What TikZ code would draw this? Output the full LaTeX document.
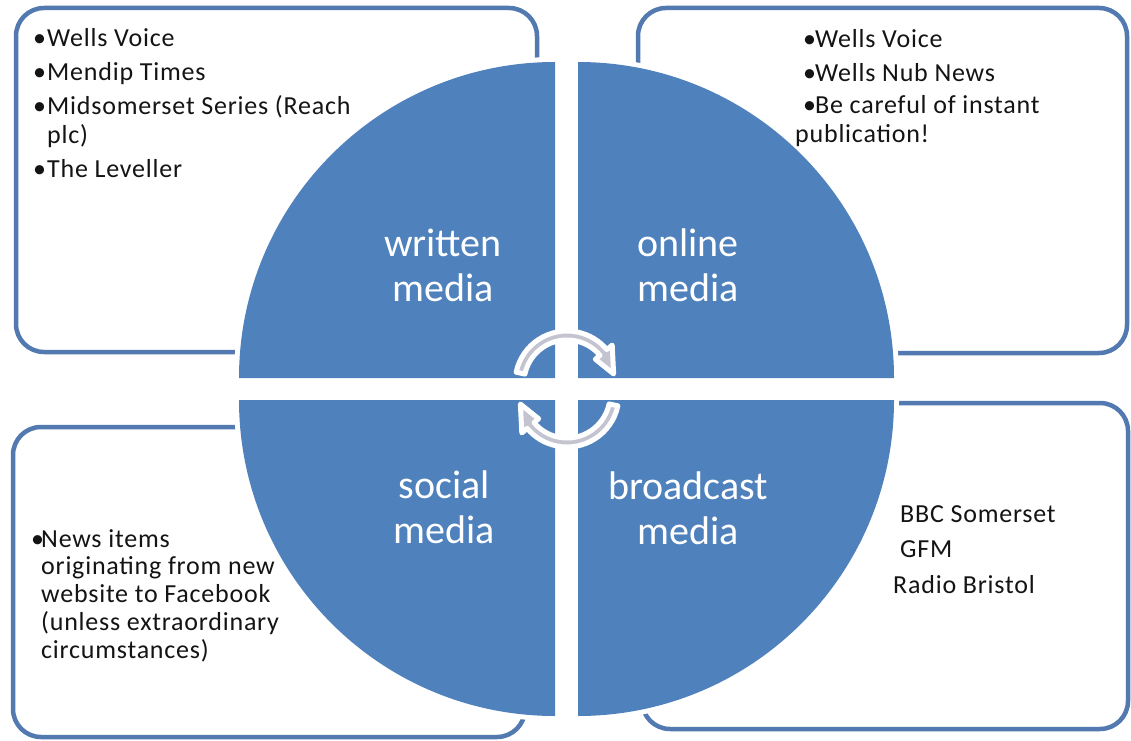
\documentclass[tikz,border=0pt]{standalone}
\usepackage{fontspec}
\setmainfont{Carlito}
\newfontfamily\boxfont{Carlito}[LetterSpace=3.0]
\usetikzlibrary{calc}
\definecolor{quadblue}{HTML}{4F81BD}
\definecolor{frameblue}{HTML}{5279B0}
\definecolor{arrowgrey}{HTML}{C4C4D0}
\definecolor{ink}{HTML}{141414}
\newcommand\itemdot[1]{\makebox[#1][l]{•}}

\begin{document}
\begin{tikzpicture}[x=1pt,y=1pt,
  panel/.style={draw=frameblue, line width=4.5pt, fill=white, rounded corners=28pt},
  halo/.style={draw=white, line width=10pt, line join=round},
  quad/.style={fill=quadblue},
  qlabel/.style={text=white, align=center, inner sep=0pt, font=\fontsize{40}{45}\selectfont},
  listtext/.style={text=ink, anchor=base west, inner sep=0pt},
  cyclearrow/.style={fill=arrowgrey, draw=white, line width=5pt, line join=round}
]
\useasboundingbox (0,0) rectangle (1131,740);
\fill[white] (0,0) rectangle (1131,740);

% text panels behind the circle
\draw[panel] (16,388) rectangle (537,732);
\draw[panel] (638,387) rectangle (1127,732);
\draw[panel] (13,3) rectangle (525,313);
\draw[panel] (642,11) rectangle (1128,337);

% white halo round each quarter
\draw[halo] (555,362) -- (239,362) arc[start angle=180, end angle=90, radius=316pt] -- cycle;
\draw[halo] (578,362) -- (578,678) arc[start angle=90, end angle=0, radius=316pt] -- cycle;
\draw[halo] (555,340) -- (555,24) arc[start angle=270, end angle=180, radius=316pt] -- cycle;
\draw[halo] (578,340) -- (894,340) arc[start angle=0, end angle=-90, radius=316pt] -- cycle;

% the four quarters
\fill[quad] (555,362) -- (239,362) arc[start angle=180, end angle=90, radius=316pt] -- cycle;
\fill[quad] (578,362) -- (578,678) arc[start angle=90, end angle=0, radius=316pt] -- cycle;
\fill[quad] (555,340) -- (555,24) arc[start angle=270, end angle=180, radius=316pt] -- cycle;
\fill[quad] (578,340) -- (894,340) arc[start angle=0, end angle=-90, radius=316pt] -- cycle;

% quarter labels
\node[qlabel] (written) at (443,474.5) {written\\media};
\node[qlabel] (online) at (688,474.5) {online\\media};
\node[qlabel] (social) at (444,232.5) {social\\media};
\node[qlabel] (broadcast) at (688,232) {broadcast\\media};

% circular arrows in the middle
\coordinate (c1) at (567,357);
\coordinate (c2) at (567,345);
\path[cyclearrow] ($(c1)+(168:52pt)$) arc[start angle=168, end angle=40, radius=52pt]
  -- ($(c1)+(40:59pt)$) -- ($(c1)+(11:47.5pt)$) -- ($(c1)+(40:37pt)$)
  -- ($(c1)+(40:43pt)$) arc[start angle=40, end angle=168, radius=43pt] -- cycle;
\path[cyclearrow] ($(c2)+(348:52pt)$) arc[start angle=348, end angle=220, radius=52pt]
  -- ($(c2)+(220:59pt)$) -- ($(c2)+(191:47.5pt)$) -- ($(c2)+(220:37pt)$)
  -- ($(c2)+(220:43pt)$) arc[start angle=220, end angle=348, radius=43pt] -- cycle;

% panel texts
\node[listtext, font={\boxfont\fontsize{26}{28.5}\selectfont}] (writtenlist) at (33,693)
  {\begin{tabular}[t]{@{}l@{}}
   \itemdot{14pt}Wells Voice\\[5.5pt]
   \itemdot{14pt}Mendip Times\\[5.5pt]
   \itemdot{14pt}Midsomerset Series (Reach\\
   \hspace*{14pt}plc)\\[5.5pt]
   \itemdot{14pt}The Leveller
   \end{tabular}};
\node[listtext, font={\boxfont\fontsize{26}{28.5}\selectfont}] (onlinelist) at (795,692)
  {\begin{tabular}[t]{@{}l@{}}
   \hspace*{8pt}\itemdot{12pt}Wells Voice\\[5pt]
   \hspace*{8pt}\itemdot{12pt}Wells Nub News\\[4pt]
   \hspace*{8pt}\itemdot{12pt}Be careful of instant\\
   publication!
   \end{tabular}};
\node[listtext, font={\boxfont\fontsize{26}{27.75}\selectfont}] (sociallist) at (31,193)
  {\begin{tabular}[t]{@{}l@{}}
   \itemdot{10pt}News items\\
   \hspace*{10pt}originating from new\\
   \hspace*{10pt}website to Facebook\\
   \hspace*{10pt}(unless extraordinary\\
   \hspace*{10pt}circumstances)
   \end{tabular}};
\node[listtext, font={\boxfont\fontsize{26}{28.5}\selectfont}] (broadcastlist) at (900,218)
  {\begin{tabular}[t]{@{}l@{}}
   BBC Somerset\\[7pt]
   GFM\\[7pt]
   \hspace*{-7pt}Radio Bristol
   \end{tabular}};
\end{tikzpicture}
\end{document}
